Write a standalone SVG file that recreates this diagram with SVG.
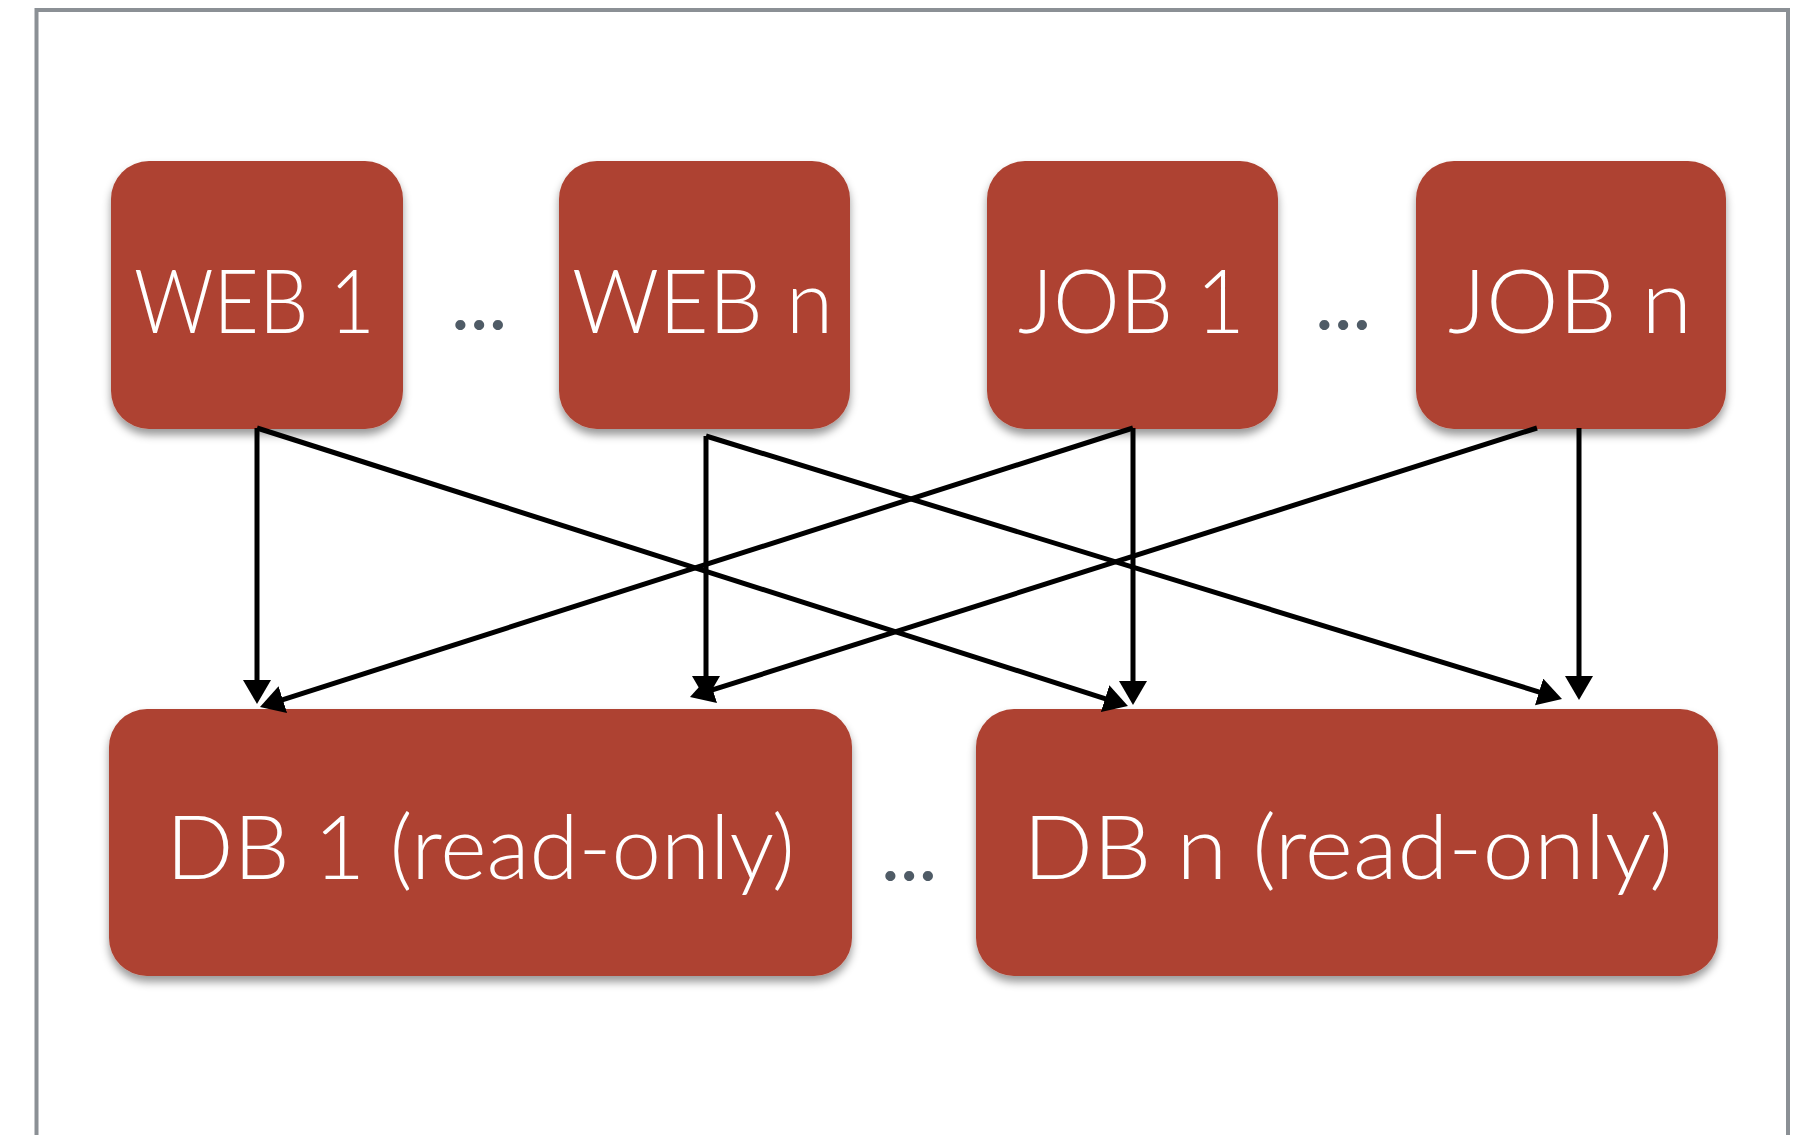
<svg xmlns="http://www.w3.org/2000/svg" width="1794" height="1135" viewBox="0 0 1794 1135">
  <style>
    .box { fill: #ae4332; filter: url(#shadow); }
    .lbl { fill: #ffffff; font-family: Lato, "Open Sans", "Liberation Sans", sans-serif; font-weight: 300; font-size: 88px; }
    .dots { fill: #4f5b66; font-family: Lato, "Open Sans", sans-serif; font-weight: 900; font-size: 62px; letter-spacing: 4px; }
    .conn line { stroke: #000; stroke-width: 5; marker-end: url(#arrow); }
  </style>
  <defs>
    <filter id="shadow" x="-10%" y="-10%" width="120%" height="130%">
      <feDropShadow dx="0" dy="6" stdDeviation="4" flood-color="#000" flood-opacity="0.4"/>
    </filter>
    <marker id="arrow" markerUnits="userSpaceOnUse" markerWidth="28" markerHeight="28" refX="8" refY="14" orient="auto">
      <path d="M0,0 L24,14 L0,28 z" fill="#000"/>
    </marker>
  </defs>
  <rect x="0" y="0" width="1794" height="1135" fill="#ffffff"/>
  <path d="M36.5,1140 V10 H1788 V1140" fill="none" stroke="#8b9095" stroke-width="4"/>

  <g id="web1">
    <rect class="box" x="111" y="161" width="292" height="268" rx="38"/>
    <text class="lbl" x="134" y="333" textLength="241" lengthAdjust="spacingAndGlyphs">WEB 1</text>
  </g>
  <g id="webn">
    <rect class="box" x="559" y="161" width="291" height="268" rx="38"/>
    <text class="lbl" x="572" y="333" textLength="261" lengthAdjust="spacingAndGlyphs">WEB n</text>
  </g>
  <g id="job1">
    <rect class="box" x="987" y="161" width="291" height="268" rx="38"/>
    <text class="lbl" x="1018" y="333" textLength="227" lengthAdjust="spacingAndGlyphs">JOB 1</text>
  </g>
  <g id="jobn">
    <rect class="box" x="1416" y="161" width="310" height="268" rx="38"/>
    <text class="lbl" x="1448" y="333" textLength="244" lengthAdjust="spacingAndGlyphs">JOB n</text>
  </g>
  <g id="db1">
    <rect class="box" x="109" y="709" width="743" height="267" rx="38"/>
    <text class="lbl" x="166" y="879" textLength="629" lengthAdjust="spacingAndGlyphs">DB 1 (read-only)</text>
  </g>
  <g id="dbn">
    <rect class="box" x="976" y="709" width="742" height="267" rx="38"/>
    <text class="lbl" x="1023" y="879" textLength="650" lengthAdjust="spacingAndGlyphs">DB n (read-only)</text>
  </g>

  <g id="ellipses">
    <text class="dots" x="453" y="330">...</text>
    <text class="dots" x="1317" y="330">...</text>
    <text class="dots" x="883" y="881">...</text>
  </g>

  <g id="connectors" class="conn">
    <line x1="257" y1="428" x2="257" y2="688"/>
    <line x1="257" y1="428" x2="1112.7" y2="701.1"/>
    <line x1="706" y1="436" x2="706" y2="684"/>
    <line x1="706" y1="436" x2="1546.7" y2="694.3"/>
    <line x1="1133" y1="428" x2="1133" y2="689"/>
    <line x1="1133" y1="428" x2="275.2" y2="702.1"/>
    <line x1="1579" y1="428" x2="1579" y2="684"/>
    <line x1="1537" y1="428" x2="705.2" y2="692.2"/>
  </g>
</svg>
